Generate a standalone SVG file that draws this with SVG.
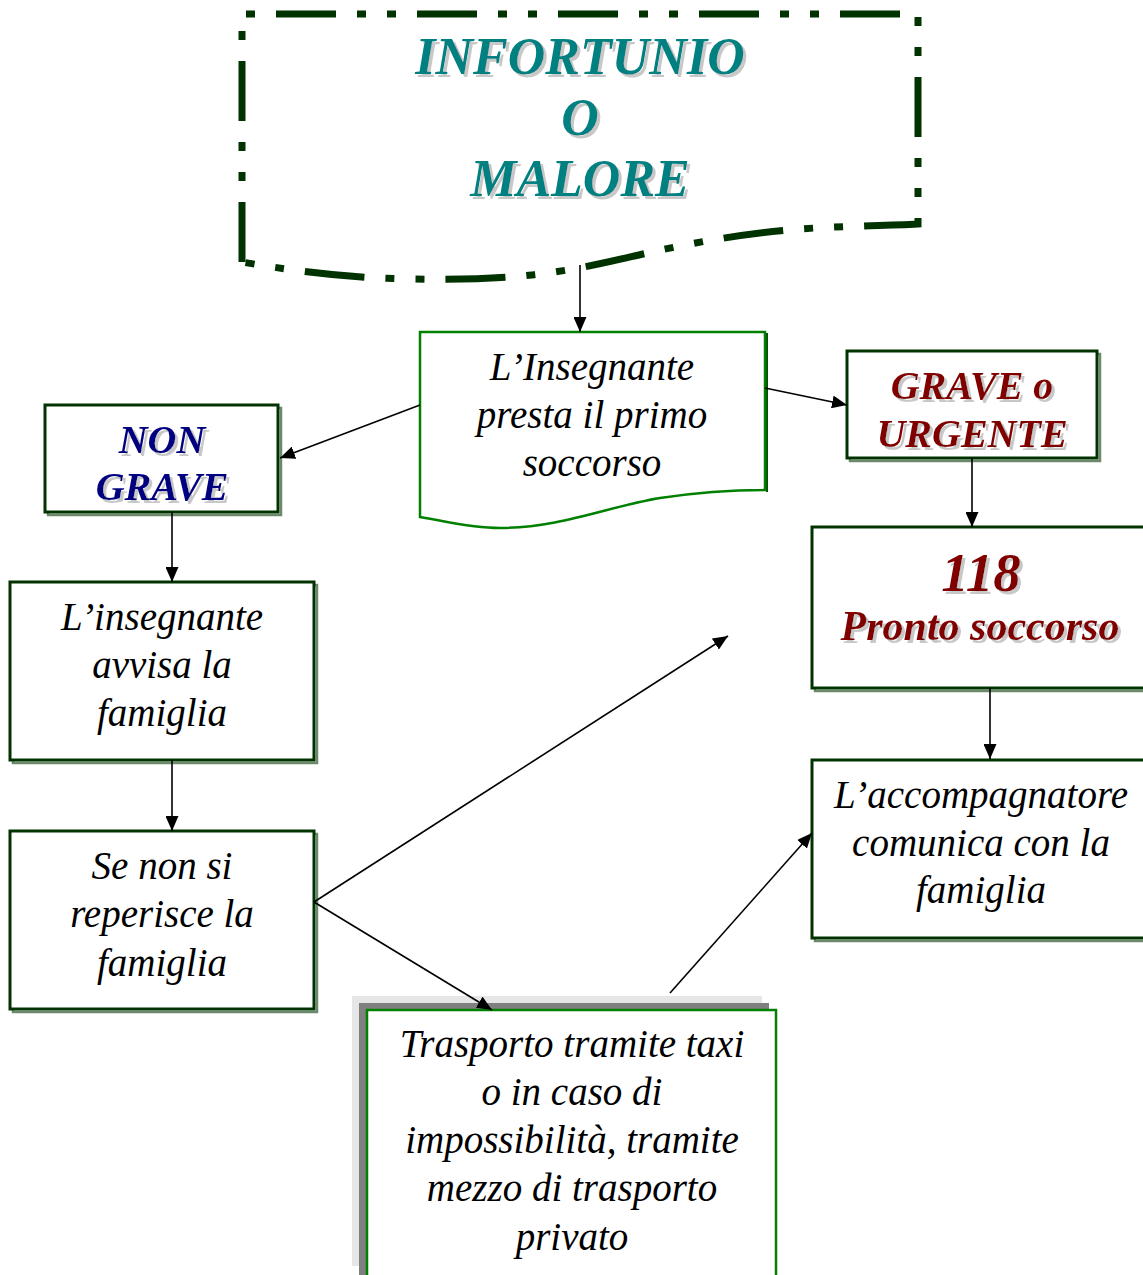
<svg xmlns="http://www.w3.org/2000/svg" width="1143" height="1275" viewBox="0 0 1143 1275">
<defs>
<marker id="ah" viewBox="0 0 15 13" refX="15" refY="6.5" markerWidth="15" markerHeight="13" markerUnits="userSpaceOnUse" orient="auto">
<path d="M0,0 L15,6.5 L0,13 Z" fill="#000"/>
</marker>
<filter id="ts" x="-10%" y="-20%" width="130%" height="150%">
<feOffset in="SourceAlpha" dx="3" dy="3" result="o"/>
<feFlood flood-color="#c8c8c8"/>
<feComposite in2="o" operator="in"/>
<feMerge><feMergeNode/><feMergeNode in="SourceGraphic"/></feMerge>
</filter>
</defs>
<style>
.con{stroke:#000;stroke-width:1.6;fill:none;marker-end:url(#ah)}
.box{fill:#fff;stroke:#003300;stroke-width:3}
.sh{fill:none;stroke:#6b8a6b;stroke-width:2.5}
.gbox{fill:#fff;stroke:#008000;stroke-width:2.5}
.body{font-family:"Liberation Serif",serif;font-style:italic;font-size:39px;fill:#000;text-anchor:middle}
.head{font-family:"Liberation Serif",serif;font-style:italic;font-weight:bold;text-anchor:middle;filter:url(#ts)}
</style>
<rect width="1143" height="1275" fill="#fff"/>

<g id="start">
<path d="M242,262 L242,14 L918,14 L918,224 C880,226 840,226 800,229 C760,232 720,238 680,246 C630,256 590,268 540,274 C500,279 460,280 410,279 C350,278 300,272 242,262" fill="none" stroke="#003300" stroke-width="7" stroke-dasharray="60 21 9 21 9 21"/>
<g class="head" font-size="52" fill="#008080">
<text x="580" y="74">INFORTUNIO</text>
<text x="580" y="135">O</text>
<text x="580" y="196">MALORE</text>
</g>
</g>

<g id="primo">
<path d="M422,334 L767,334 L767,492" fill="none" stroke="#005500" stroke-width="2"/>
<path class="gbox" d="M420,332 L765,332 L765,490 C730,490 700,492 660,498 C610,506 560,528 500,528 C470,528 445,521 420,517 Z"/>
<text class="body" x="592" y="380">L’Insegnante</text>
<text class="body" x="592" y="428">presta il primo</text>
<text class="body" x="592" y="476">soccorso</text>
</g>

<g id="nongrave">
<rect class="sh" x="48" y="408" width="233" height="107"/>
<rect class="box" x="45" y="405" width="233" height="107"/>
<g class="head" font-size="40" fill="#000080">
<text x="162" y="453">NON</text>
<text x="162" y="500">GRAVE</text>
</g>
</g>

<g id="grave">
<rect class="sh" x="850" y="354" width="250" height="107"/>
<rect class="box" x="847" y="351" width="250" height="107"/>
<g class="head" font-size="40" fill="#800000">
<text x="972" y="399">GRAVE o</text>
<text x="972" y="447">URGENTE</text>
</g>
</g>

<g id="ps118">
<rect class="sh" x="815" y="530" width="340" height="161"/>
<rect class="box" x="812" y="527" width="340" height="161"/>
<g class="head" fill="#800000">
<text x="981" y="591" font-size="55">118</text>
<text x="980" y="640" font-size="42">Pronto soccorso</text>
</g>
</g>

<g id="accomp">
<rect class="sh" x="815" y="763" width="340" height="178"/>
<rect class="box" x="812" y="760" width="340" height="178"/>
<text class="body" x="981" y="808">L’accompagnatore</text>
<text class="body" x="981" y="856">comunica con la</text>
<text class="body" x="981" y="903">famiglia</text>
</g>

<g id="avvisa">
<rect class="sh" x="13" y="585" width="304" height="178"/>
<rect class="box" x="10" y="582" width="304" height="178"/>
<text class="body" x="162" y="630">L’insegnante</text>
<text class="body" x="162" y="678">avvisa la</text>
<text class="body" x="162" y="726">famiglia</text>
</g>

<g id="reperisce">
<rect class="sh" x="13" y="834" width="304" height="178"/>
<rect class="box" x="10" y="831" width="304" height="178"/>
<text class="body" x="162" y="879">Se non si</text>
<text class="body" x="162" y="927">reperisce la</text>
<text class="body" x="162" y="976">famiglia</text>
</g>

<g id="trasporto">
<rect x="352" y="996" width="410" height="270" fill="#e6e6e6"/>
<rect x="359" y="1003" width="410" height="272" fill="#808080"/>
<rect class="gbox" x="367" y="1010" width="409" height="275" stroke-width="2"/>
<text class="body" x="572" y="1057">Trasporto tramite taxi</text>
<text class="body" x="572" y="1105">o in caso di</text>
<text class="body" x="572" y="1153">impossibilità, tramite</text>
<text class="body" x="572" y="1201">mezzo di trasporto</text>
<text class="body" x="572" y="1250">privato</text>
</g>

<g id="connectors">
<line class="con" x1="580" y1="265" x2="580" y2="332"/>
<line class="con" x1="420" y1="405" x2="280" y2="458"/>
<line class="con" x1="765" y1="388" x2="847" y2="405"/>
<line class="con" x1="972" y1="458" x2="972" y2="527"/>
<line class="con" x1="990" y1="688" x2="990" y2="759"/>
<line class="con" x1="172" y1="512" x2="172" y2="582"/>
<line class="con" x1="172" y1="760" x2="172" y2="831"/>
<line class="con" x1="314" y1="902" x2="728" y2="636"/>
<line class="con" x1="314" y1="902" x2="492" y2="1010"/>
<line class="con" x1="670" y1="993" x2="812" y2="833"/>
</g>
</svg>
